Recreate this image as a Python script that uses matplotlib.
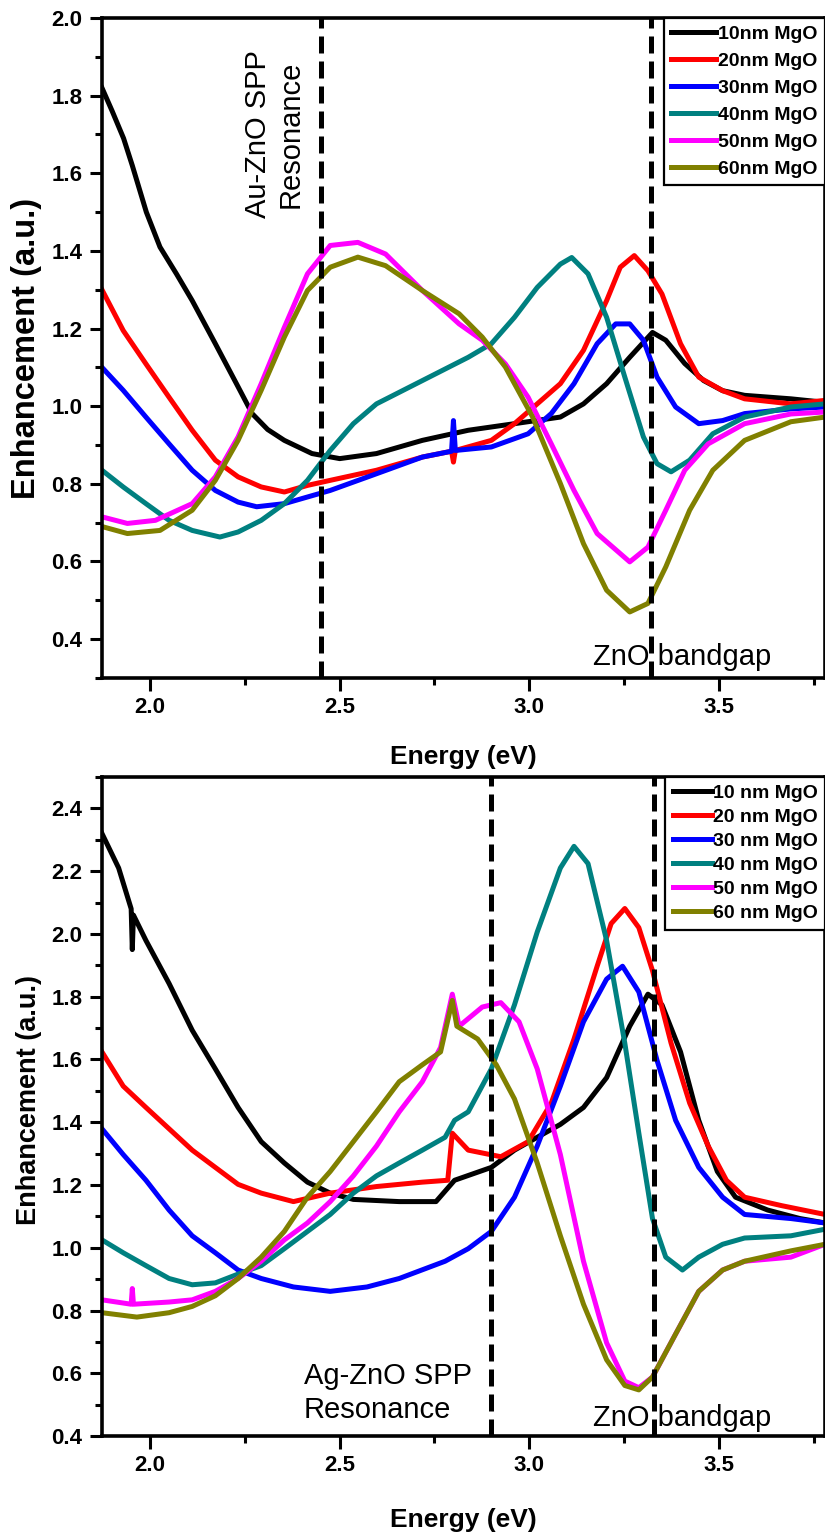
import matplotlib
matplotlib.use("Agg")
import matplotlib.pyplot as plt
from matplotlib.ticker import MultipleLocator, FormatStrFormatter

plt.rcParams.update({
    "font.family": ["Liberation Sans", "DejaVu Sans"],
    "font.weight": "bold",
})

COLORS = ["#000000", "#ff0000", "#0000ff", "#008080", "#ff00ff", "#808000"]

# ---- top panel: Au-ZnO ----
AU_LABELS = ["10nm MgO", "20nm MgO", "30nm MgO", "40nm MgO", "50nm MgO", "60nm MgO"]

au_10_e = [1.873, 1.90, 1.93, 1.953, 1.99, 2.026, 2.07, 2.111, 2.172, 2.232, 2.269, 2.31, 2.354,
           2.427, 2.50, 2.597, 2.718, 2.839, 2.961, 3.082, 3.143, 3.204, 3.265, 3.325, 3.36,
           3.41, 3.46, 3.51, 3.568, 3.69, 3.78]
au_10_v = [1.82, 1.76, 1.69, 1.62, 1.50, 1.41, 1.34, 1.272, 1.161, 1.05, 0.981, 0.94, 0.912,
           0.878, 0.865, 0.878, 0.912, 0.938, 0.955, 0.972, 1.006, 1.058, 1.126, 1.19, 1.17,
           1.11, 1.066, 1.04, 1.028, 1.019, 1.01]

au_20_e = [1.873, 1.929, 1.989, 2.05, 2.111, 2.172, 2.232, 2.293, 2.354, 2.415, 2.475, 2.597,
           2.718, 2.795, 2.80, 2.805, 2.9, 2.961, 3.021, 3.082, 3.143, 3.204, 3.24, 3.277, 3.313,
           3.35, 3.399, 3.447, 3.51, 3.568, 3.69, 3.78]
au_20_v = [1.30, 1.195, 1.109, 1.023, 0.938, 0.861, 0.818, 0.792, 0.779, 0.796, 0.809, 0.835,
           0.869, 0.884, 0.856, 0.886, 0.912, 0.955, 1.006, 1.058, 1.144, 1.272, 1.358, 1.388,
           1.349, 1.289, 1.161, 1.075, 1.04, 1.019, 1.006, 1.015]

au_30_e = [1.873, 1.929, 1.989, 2.05, 2.111, 2.172, 2.232, 2.281, 2.354, 2.475, 2.597, 2.718,
           2.795, 2.80, 2.805, 2.9, 2.997, 3.058, 3.118, 3.179, 3.228, 3.265, 3.301, 3.337, 3.386,
           3.447, 3.51, 3.568, 3.69, 3.78]
au_30_v = [1.10, 1.041, 0.972, 0.903, 0.835, 0.783, 0.753, 0.741, 0.749, 0.783, 0.826, 0.869,
           0.884, 0.963, 0.886, 0.895, 0.929, 0.981, 1.058, 1.161, 1.212, 1.212, 1.17, 1.075,
           0.998, 0.955, 0.963, 0.981, 0.993, 0.998]

au_40_e = [1.873, 1.929, 1.989, 2.05, 2.111, 2.184, 2.232, 2.293, 2.354, 2.415, 2.475, 2.536,
           2.597, 2.718, 2.839, 2.9, 2.961, 3.021, 3.082, 3.112, 3.155, 3.204, 3.252, 3.301,
           3.337, 3.374, 3.423, 3.484, 3.568, 3.69, 3.78]
au_40_v = [0.835, 0.792, 0.749, 0.706, 0.68, 0.663, 0.676, 0.706, 0.749, 0.809, 0.886, 0.955,
           1.006, 1.066, 1.126, 1.161, 1.229, 1.306, 1.366, 1.383, 1.341, 1.229, 1.075, 0.921,
           0.852, 0.831, 0.861, 0.929, 0.972, 0.998, 1.006]

au_50_e = [1.873, 1.94, 2.014, 2.111, 2.172, 2.232, 2.293, 2.354, 2.415, 2.475, 2.548, 2.621,
           2.718, 2.815, 2.876, 2.937, 2.997, 3.058, 3.118, 3.179, 3.265, 3.313, 3.36, 3.41,
           3.472, 3.568, 3.69, 3.78]
au_50_v = [0.715, 0.698, 0.706, 0.749, 0.818, 0.921, 1.058, 1.203, 1.341, 1.414, 1.422, 1.392,
           1.298, 1.212, 1.17, 1.109, 1.023, 0.903, 0.783, 0.672, 0.599, 0.637, 0.732, 0.835,
           0.903, 0.955, 0.98, 0.985]

au_60_e = [1.873, 1.94, 2.026, 2.111, 2.172, 2.232, 2.293, 2.354, 2.415, 2.475, 2.548, 2.621,
           2.718, 2.815, 2.876, 2.937, 3.009, 3.082, 3.143, 3.204, 3.265, 3.313, 3.36, 3.423,
           3.484, 3.568, 3.69, 3.78]
au_60_v = [0.69, 0.672, 0.68, 0.732, 0.809, 0.912, 1.041, 1.178, 1.298, 1.358, 1.384, 1.362,
           1.298, 1.238, 1.178, 1.101, 0.972, 0.801, 0.646, 0.526, 0.47, 0.492, 0.586, 0.732,
           0.835, 0.912, 0.96, 0.972]

# ---- bottom panel: Ag-ZnO ----
AG_LABELS = ["10 nm MgO", "20 nm MgO", "30 nm MgO", "40 nm MgO", "50 nm MgO", "60 nm MgO"]

ag_10_e = [1.873, 1.917, 1.950, 1.953, 1.956, 1.989, 2.05, 2.111, 2.172, 2.232, 2.293, 2.354,
           2.415, 2.475, 2.536, 2.657, 2.754, 2.803, 2.9, 2.961, 3.021, 3.082, 3.143, 3.204,
           3.265, 3.313, 3.35, 3.399, 3.447, 3.496, 3.544, 3.629, 3.714, 3.78]
ag_10_v = [2.32, 2.21, 2.08, 1.95, 2.06, 1.979, 1.842, 1.693, 1.57, 1.447, 1.338, 1.27, 1.209,
           1.174, 1.154, 1.147, 1.147, 1.215, 1.256, 1.311, 1.352, 1.393, 1.447, 1.542, 1.706,
           1.808, 1.774, 1.624, 1.406, 1.243, 1.161, 1.12, 1.093, 1.079]

ag_20_e = [1.873, 1.929, 1.989, 2.05, 2.111, 2.172, 2.232, 2.293, 2.378, 2.475, 2.597, 2.718,
           2.785, 2.797, 2.839, 2.925, 2.997, 3.058, 3.118, 3.179, 3.216, 3.252, 3.289, 3.325,
           3.374, 3.423, 3.472, 3.52, 3.568, 3.666, 3.78]
ag_20_v = [1.624, 1.515, 1.447, 1.379, 1.311, 1.256, 1.202, 1.174, 1.147, 1.174, 1.195, 1.209,
           1.215, 1.365, 1.311, 1.29, 1.338, 1.461, 1.665, 1.897, 2.033, 2.081, 2.02, 1.883,
           1.652, 1.461, 1.324, 1.215, 1.161, 1.134, 1.106]

ag_30_e = [1.873, 1.929, 1.989, 2.05, 2.111, 2.172, 2.232, 2.293, 2.378, 2.475, 2.572, 2.657,
           2.778, 2.839, 2.9, 2.961, 3.021, 3.082, 3.143, 3.204, 3.246, 3.289, 3.337, 3.386,
           3.447, 3.51, 3.568, 3.69, 3.78]
ag_30_v = [1.379, 1.297, 1.215, 1.12, 1.038, 0.984, 0.929, 0.902, 0.875, 0.861, 0.875, 0.902,
           0.957, 0.997, 1.052, 1.161, 1.324, 1.515, 1.72, 1.856, 1.897, 1.815, 1.597, 1.406,
           1.256, 1.161, 1.106, 1.093, 1.079]

ag_40_e = [1.873, 1.929, 1.989, 2.05, 2.111, 2.172, 2.232, 2.293, 2.354, 2.415, 2.475, 2.536,
           2.597, 2.657, 2.718, 2.778, 2.803, 2.839, 2.9, 2.961, 3.021, 3.082, 3.118, 3.155,
           3.204, 3.252, 3.289, 3.325, 3.36, 3.404, 3.447, 3.51, 3.568, 3.69, 3.78]
ag_40_v = [1.025, 0.984, 0.943, 0.902, 0.882, 0.888, 0.916, 0.943, 0.997, 1.052, 1.106, 1.174,
           1.229, 1.27, 1.311, 1.352, 1.406, 1.433, 1.57, 1.774, 2.006, 2.21, 2.279, 2.224,
           1.979, 1.652, 1.365, 1.093, 0.97, 0.929, 0.97, 1.011, 1.031, 1.038, 1.059]

ag_50_e = [1.873, 1.950, 1.953, 1.956, 2.05, 2.111, 2.172, 2.232, 2.293, 2.354, 2.415, 2.475,
           2.536, 2.597, 2.657, 2.718, 2.766, 2.797, 2.815, 2.876, 2.925, 2.973, 3.021, 3.082,
           3.143, 3.204, 3.252, 3.289, 3.325, 3.386, 3.447, 3.51, 3.568, 3.69, 3.78]
ag_50_v = [0.834, 0.82, 0.87, 0.82, 0.827, 0.834, 0.861, 0.902, 0.957, 1.025, 1.079, 1.147,
           1.229, 1.324, 1.433, 1.529, 1.638, 1.808, 1.706, 1.767, 1.781, 1.72, 1.57, 1.297,
           0.957, 0.697, 0.575, 0.554, 0.588, 0.725, 0.861, 0.929, 0.957, 0.97, 1.011]

ag_60_e = [1.873, 1.965, 2.05, 2.111, 2.172, 2.232, 2.293, 2.354, 2.415, 2.475, 2.536, 2.597,
           2.657, 2.718, 2.766, 2.797, 2.809, 2.864, 2.913, 2.961, 3.021, 3.082, 3.143, 3.204,
           3.252, 3.289, 3.325, 3.386, 3.447, 3.51, 3.568, 3.69, 3.78]
ag_60_v = [0.793, 0.779, 0.793, 0.813, 0.847, 0.902, 0.97, 1.052, 1.161, 1.243, 1.338, 1.433,
           1.529, 1.583, 1.624, 1.788, 1.706, 1.665, 1.583, 1.474, 1.27, 1.038, 0.82, 0.643,
           0.561, 0.547, 0.588, 0.725, 0.861, 0.929, 0.957, 0.99, 1.011]

AU_SPP = 2.45
AG_SPP = 2.90
ZNO_GAP_TOP = 3.32
ZNO_GAP_BOT = 3.33

XLIM = (1.873, 3.78)


def style_axes(ax, ylim, ylabel_size, xlabel_y):
    ax.set_xlim(*XLIM)
    ax.set_ylim(*ylim)
    ax.xaxis.set_major_locator(MultipleLocator(0.5))
    ax.xaxis.set_minor_locator(MultipleLocator(0.25))
    ax.yaxis.set_major_locator(MultipleLocator(0.2))
    ax.yaxis.set_minor_locator(MultipleLocator(0.1))
    ax.xaxis.set_major_formatter(FormatStrFormatter("%.1f"))
    ax.yaxis.set_major_formatter(FormatStrFormatter("%.1f"))
    for sp in ax.spines.values():
        sp.set_linewidth(2.6)
    ax.tick_params(which="major", direction="out", length=9, width=2.2, labelsize=16, pad=5,
                   top=False, right=False)
    ax.tick_params(which="minor", direction="out", length=5, width=2.2, top=False, right=False)
    ax.set_xlabel("Energy (eV)", fontsize=19, fontweight="bold")
    ax.set_ylabel("Enhancement (a.u.)", fontsize=ylabel_size, fontweight="bold")
    ax.xaxis.set_label_coords(0.5, xlabel_y)


def add_legend(ax, labels, spacing, hlen, hpad):
    leg = ax.legend(labels, loc="upper right", bbox_to_anchor=(1.0, 1.0), borderaxespad=0,
                    prop={"weight": "bold", "size": 14}, handlelength=hlen, handletextpad=hpad,
                    labelspacing=spacing, borderpad=0.38, fancybox=False, framealpha=1,
                    edgecolor="black")
    leg.get_frame().set_linewidth(1.6)


def vline(ax, x):
    ax.axvline(x, color="black", lw=3.6, dashes=(3.4, 1.6), dash_capstyle="butt", zorder=5)


fig = plt.figure(figsize=(8.25, 15.38), dpi=100)
ax1 = fig.add_axes([0.1236, 0.5592, 0.8764, 0.4291])
ax2 = fig.add_axes([0.1236, 0.0663, 0.8764, 0.4285])

au_series = [(au_10_e, au_10_v), (au_20_e, au_20_v), (au_30_e, au_30_v),
             (au_40_e, au_40_v), (au_50_e, au_50_v), (au_60_e, au_60_v)]
for (e, v), c in zip(au_series, COLORS):
    ax1.plot(e, v, color=c, lw=3.6, solid_joinstyle="round")
style_axes(ax1, (0.3, 2.0), 23.5, -0.101)
ax1.yaxis.set_label_coords(-0.083, 0.5)
add_legend(ax1, AU_LABELS, 0.48, 2.3, 0.1)
vline(ax1, AU_SPP)
vline(ax1, ZNO_GAP_TOP)
ax1.text(2.328, 1.70, "Au-ZnO SPP\nResonance", rotation=90, ha="center", va="center",
         multialignment="center", fontsize=21, fontweight="normal")
ax1.text(3.402, 0.354, "ZnO bandgap", ha="center", va="center", fontsize=21,
         fontweight="normal")

ag_series = [(ag_10_e, ag_10_v), (ag_20_e, ag_20_v), (ag_30_e, ag_30_v),
             (ag_40_e, ag_40_v), (ag_50_e, ag_50_v), (ag_60_e, ag_60_v)]
for (e, v), c in zip(ag_series, COLORS):
    ax2.plot(e, v, color=c, lw=3.6, solid_joinstyle="round")
style_axes(ax2, (0.4, 2.5), 19.5, -0.109)
ax2.yaxis.set_label_coords(-0.083, 0.51)
add_legend(ax2, AG_LABELS, 0.33, 2.0, 0.05)
vline(ax2, AG_SPP)
vline(ax2, ZNO_GAP_BOT)
ax2.text(2.405, 0.537, "Ag-ZnO SPP\nResonance", ha="left", va="center",
         multialignment="left", fontsize=21, fontweight="normal", linespacing=1.3)
ax2.text(3.402, 0.457, "ZnO bandgap", ha="center", va="center", fontsize=21,
         fontweight="normal")

fig.savefig("out.png", dpi=100, facecolor="white")
